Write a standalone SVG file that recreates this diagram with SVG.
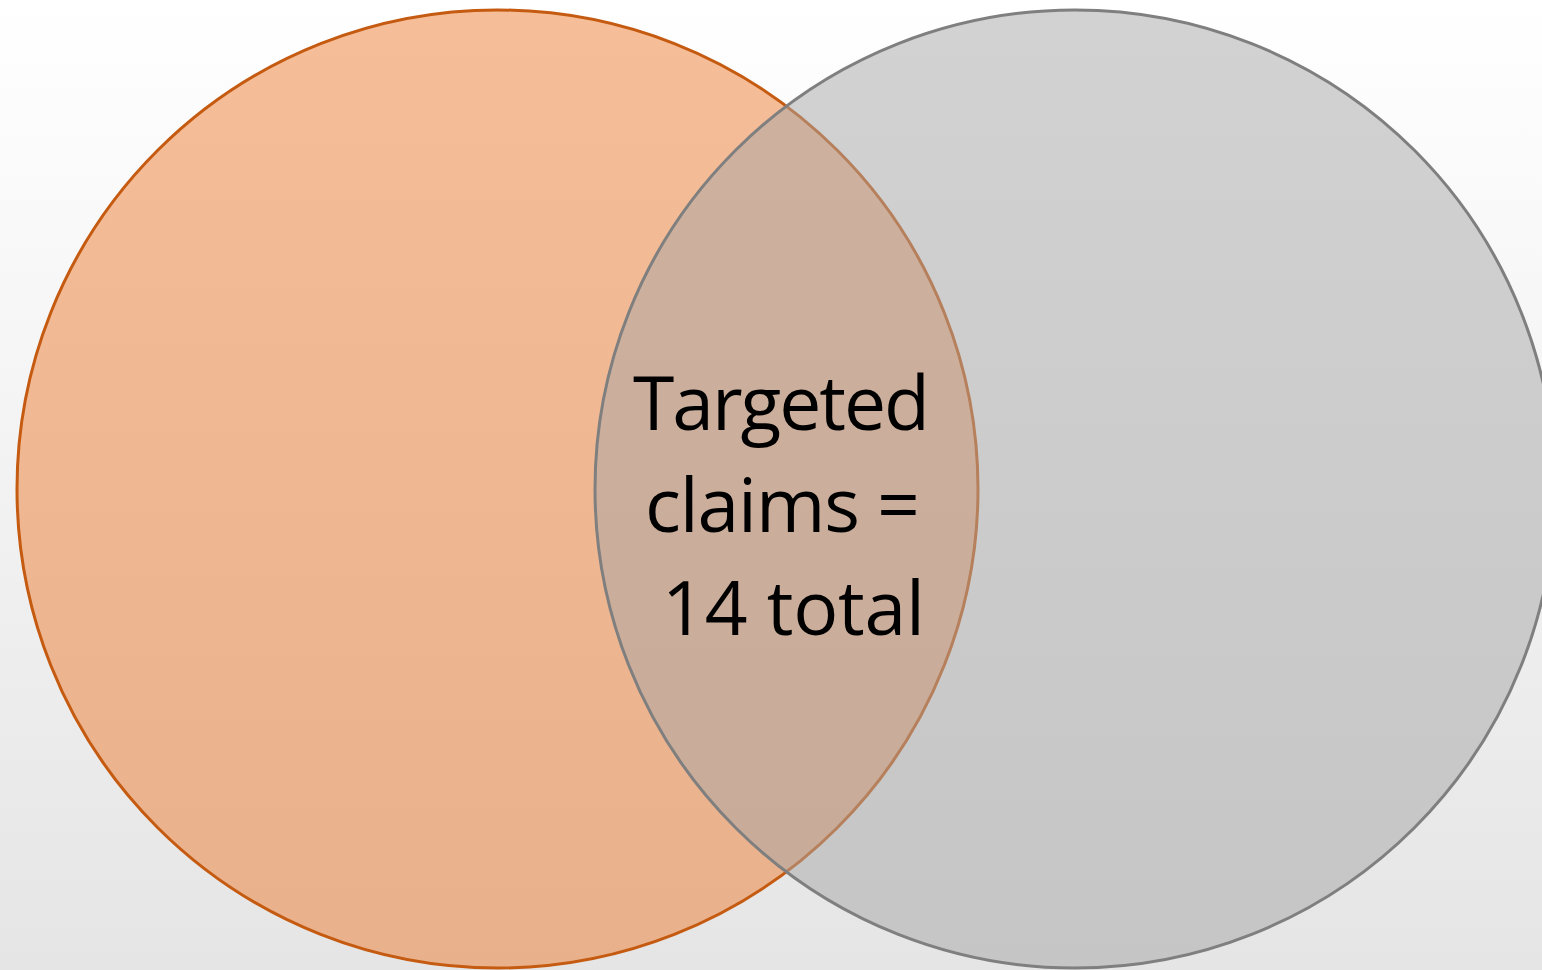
<svg xmlns="http://www.w3.org/2000/svg" width="1542" height="970" viewBox="0 0 1542 970">
<defs>
<linearGradient id="bg" x1="0" y1="0" x2="0" y2="1">
<stop offset="0" stop-color="#ffffff"/>
<stop offset="1" stop-color="#e5e5e5"/>
</linearGradient>
</defs>
<style>
.lbl{font-family:"Open Sans","Liberation Sans",sans-serif;font-size:75px;fill:#000}
</style>
<rect x="0" y="0" width="1542" height="970" fill="url(#bg)"/>
<g id="left-circle">
<ellipse cx="497.5" cy="489" rx="480.5" ry="479" fill="#ED7D31" fill-opacity="0.5" stroke="#C55A11" stroke-width="3"/>
</g>
<g id="right-circle">
<ellipse cx="1075" cy="489" rx="480" ry="479" fill="#A5A5A5" fill-opacity="0.5" stroke="#7F7F7F" stroke-width="3"/>
</g>
<g id="intersection-label">
<text class="lbl" x="633" y="430" textLength="297">Targeted</text>
<text class="lbl" x="645" y="532" textLength="275">claims =</text>
<text class="lbl" x="662" y="635" textLength="263">14 total</text>
</g>
<g id="connectors"/>
</svg>
